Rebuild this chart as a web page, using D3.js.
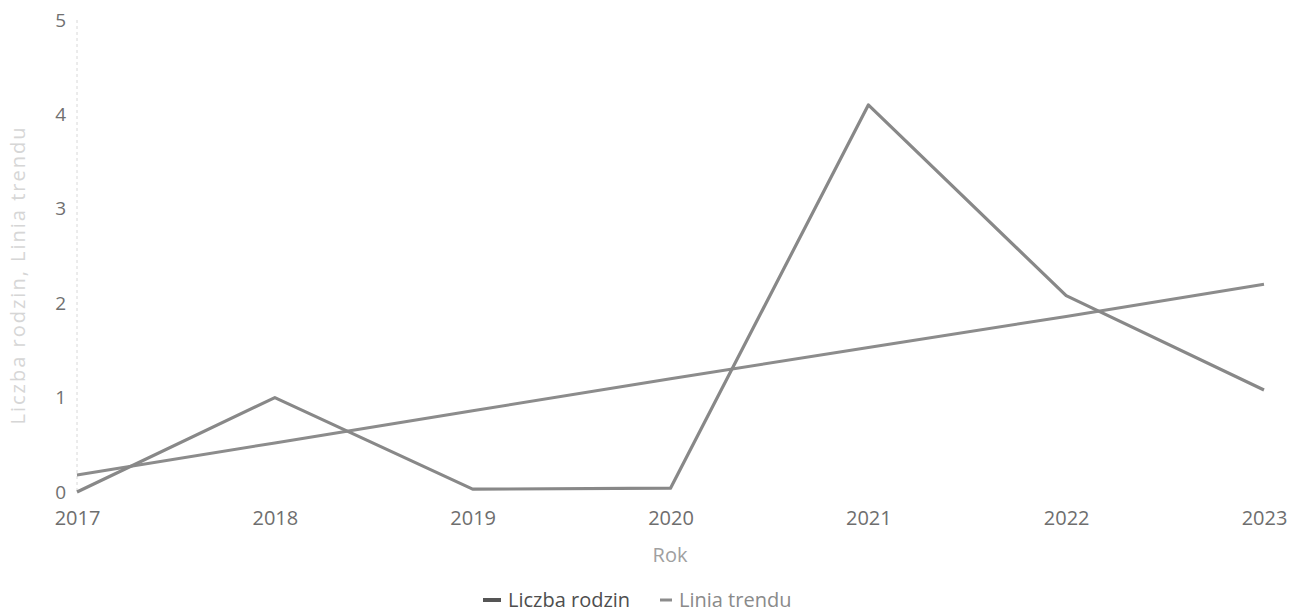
<!DOCTYPE html>
<html>
<head>
<meta charset="utf-8">
<script src="https://cdn.jsdelivr.net/npm/d3@7"></script>
<style>
  html, body { margin: 0; padding: 0; background: #fff; }
  svg { display: block; font-family: "Open Sans", "Noto Sans", sans-serif; }
</style>
</head>
<body>
<svg id="chart" width="1298" height="614"></svg>
<script>
const years = [2017, 2018, 2019, 2020, 2021, 2022, 2023];
const familyCounts = [0, 1, 0.03, 0.04, 4.1, 2.08, 1.08];
const trendValues = [0.18, 0.52, 0.86, 1.2, 1.53, 1.86, 2.2];
const yTicks = [0, 1, 2, 3, 4, 5];
const seriesNames = ["Liczba rodzin", "Linia trendu"];

const svg = d3.select("#chart");
const x = d3.scalePoint().domain(years).range([77, 1264]);
const y = d3.scaleLinear().domain([0, 5]).range([492, 20]);

// y axis line (dashed, faint)
svg.append("line")
  .attr("x1", 77).attr("x2", 77)
  .attr("y1", y(5)).attr("y2", y(0))
  .attr("stroke", "#d8d8d8").attr("stroke-width", 1)
  .attr("stroke-dasharray", "3,3");

// y tick labels
const yAxis = d3.axisLeft(y).tickValues(yTicks).tickSize(0).tickPadding(11).tickFormat(d3.format("d"));
const gy = svg.append("g").attr("transform", "translate(77,0)").call(yAxis);
gy.select(".domain").remove();
gy.selectAll("text").attr("font-size", 19).attr("fill", "#707070")
  .attr("font-family", "Open Sans, Noto Sans, sans-serif");

// x tick labels
const xAxis = d3.axisBottom(x).tickSize(0).tickPadding(10);
const gx = svg.append("g").attr("transform", "translate(0,501)").call(xAxis);
gx.select(".domain").remove();
gx.selectAll("text").attr("font-size", 20).attr("fill", "#6e6e6e")
  .attr("font-family", "Open Sans, Noto Sans, sans-serif");

// axis titles
svg.append("text")
  .attr("x", 670).attr("y", 562)
  .attr("text-anchor", "middle")
  .attr("font-size", 20).attr("fill", "#a0a0a0")
  .text("Rok");

svg.append("text")
  .attr("transform", "translate(25,275) rotate(-90)")
  .attr("text-anchor", "middle")
  .attr("font-size", 20).attr("letter-spacing", 2)
  .attr("fill", "#d6d6d6")
  .text("Liczba rodzin, Linia trendu");

// lines
const line = d3.line().x((d, i) => x(years[i])).y(d => y(d));

svg.append("path")
  .datum(trendValues)
  .attr("d", line)
  .attr("fill", "none").attr("stroke", "#8c8c8c")
  .attr("stroke-width", 3).attr("stroke-linejoin", "round");

svg.append("path")
  .datum(familyCounts)
  .attr("d", line)
  .attr("fill", "none").attr("stroke", "#888888")
  .attr("stroke-width", 3.2).attr("stroke-linejoin", "round");

// legend
const legend = svg.append("g").attr("font-size", 20);
legend.append("line").attr("x1", 483).attr("x2", 501).attr("y1", 600).attr("y2", 600)
  .attr("stroke", "#555").attr("stroke-width", 4);
legend.append("text").attr("x", 508).attr("y", 607).attr("fill", "#4e4e4e").text(seriesNames[0]);
legend.append("line").attr("x1", 660).attr("x2", 672).attr("y1", 600).attr("y2", 600)
  .attr("stroke", "#8c8c8c").attr("stroke-width", 3);
legend.append("text").attr("x", 679).attr("y", 607).attr("fill", "#8a8a8a").text(seriesNames[1]);
</script>
</body>
</html>
